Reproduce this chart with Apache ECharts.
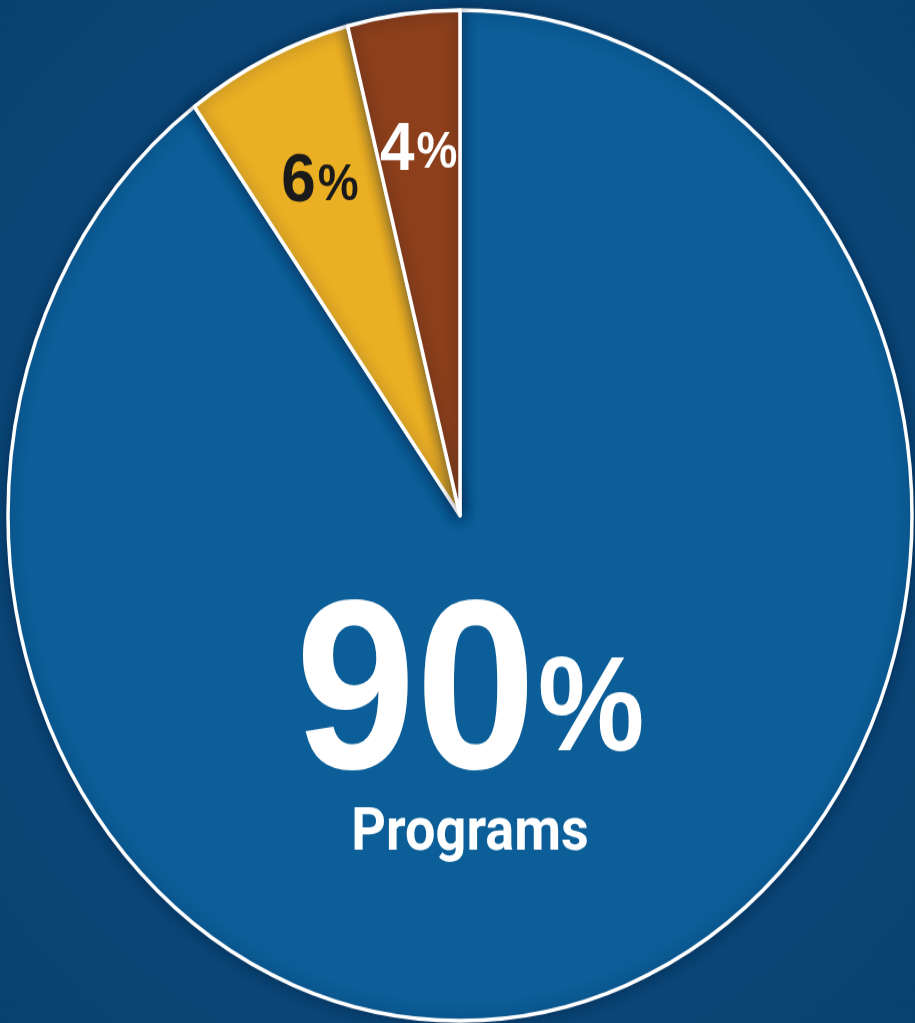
<!DOCTYPE html>
<html>
<head>
<meta charset="utf-8">
<script src="https://cdn.jsdelivr.net/npm/echarts@6/dist/echarts.min.js"></script>
<style>
  html, body { margin: 0; padding: 0; width: 915px; height: 1023px; overflow: hidden; background: #0a4a7a; }
  /* the reference is stretched vertically, so the chart is drawn square and scaled */
  #chart { width: 915px; height: 915px; transform: scaleY(1.118); transform-origin: 0 0; }
</style>
</head>
<body>
<div id="chart"></div>
<script>
// data
const categories = ['Programs', 'Segment B', 'Segment C']
const values = [90, 6, 4]

const chart = echarts.init(document.getElementById('chart'))

const pieData = categories.map((name, i) => ({ name, value: values[i] }))

const option = {
  backgroundColor: {
    type: 'radial', x: 0.5, y: 0.5, r: 0.75,
    colorStops: [
      { offset: 0, color: '#0d5289' },
      { offset: 1, color: '#08416f' },
    ],
  },
  color: ['#0b5e98', '#ebaf24', '#8c3f1a'],
  animation: false,
  series: [
    {
      // main pie, with the big label for the first slice
      type: 'pie',
      center: [460, 461],
      radius: [0, 452],
      startAngle: 90,
      silent: true,
      itemStyle: {
        borderColor: '#ffffff',
        borderWidth: 3.5,
        shadowBlur: 14,
        shadowColor: 'rgba(0, 20, 50, 0.45)',
      },
      labelLine: { show: false },
      data: pieData.map((d, i) => ({
        ...d,
        label: i === 0
          ? {
              show: true,
              position: 'center',
              offset: [10, 206],
              formatter: () => `{num|${values[0]}}{pct|%}\n{name|${categories[0]}}`,
              rich: {
                num: { fontFamily: 'Liberation Sans, Arial', fontWeight: 'bold', fontSize: 216, color: '#ffffff', lineHeight: 158 },
                pct: { fontFamily: 'Liberation Sans, Arial', fontWeight: 'bold', fontSize: 120, color: '#ffffff', lineHeight: 158, verticalAlign: 'bottom', padding: [0, 0, 8, 2] },
                name: { fontFamily: 'Roboto, Liberation Sans, Arial', fontWeight: 'bold', fontSize: 54, color: '#ffffff', lineHeight: 80, align: 'center' },
              },
            }
          : { show: false },
      })),
    },
    {
      // transparent ring that only carries the small slice labels
      type: 'pie',
      center: [460, 461],
      radius: [200, 452],
      startAngle: 90,
      silent: true,
      itemStyle: { color: 'transparent', borderWidth: 0 },
      labelLine: { show: false },
      data: pieData.map((d, i) => ({
        ...d,
        label: {
          show: i !== 0,
          position: 'inside',
          formatter: (p) => `{num|${p.value}}{pct|%}`,
          rich: {
            num: { fontFamily: 'Liberation Sans, Arial', fontWeight: 'bold', fontSize: 62, color: i === 1 ? '#1a1a1a' : '#ffffff' },
            pct: { fontFamily: 'Liberation Sans, Arial', fontWeight: 'bold', fontSize: 46, color: i === 1 ? '#1a1a1a' : '#ffffff', padding: [6, 0, 0, 2] },
          },
        },
      })),
    },
  ],
}

chart.setOption(option)
</script>
</body>
</html>
